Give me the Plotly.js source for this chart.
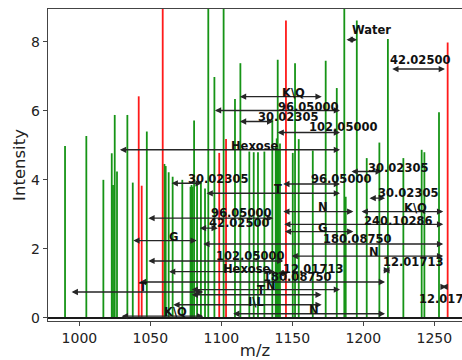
<!DOCTYPE html>
<html>
<head>
<meta charset="utf-8">
<script src="https://cdn.plot.ly/plotly-3.0.1.min.js"></script>
<style>html,body{margin:0;padding:0;background:#fff;}#chart{width:462px;height:360px;}</style>
</head>
<body>
<div id="chart"></div>
<script>
// Green (matched) peaks: m/z and intensity (values above 8.95 are clipped at the top)
const greenMz = [989.9,1004.9,1016.9,1022.8,1023.7,1024.9,1026.5,1033.8,1037.6,1047.5,
  1059.9,1060.8,1062.9,1065.7,1072.5,1078.3,1079.0,1079.7,1080.8,1082.9,1085.6,1088.5,
  1090.8,1095.1,1101.6,1109.6,1113.4,1119.7,1122.8,1125.8,1130.3,1135.9,1138.3,1139.0,
  1139.7,1140.5,1141.3,1150.3,1151.9,1154.5,1164.4,1173.5,1181.3,1186.6,1187.6,1195.4,
  1202.4,1211.3,1217.3,1228.2,1241.1,1243.0,1253.3];
const greenInt = [4.98,5.27,4.00,4.77,3.85,5.88,4.24,5.88,3.92,5.40,
  4.46,4.40,4.22,4.09,4.00,3.80,3.85,3.80,5.72,3.92,3.95,3.75,
  9.6,6.98,9.6,6.34,7.38,4.82,4.80,4.80,4.82,5.74,4.95,5.20,
  7.48,4.90,5.05,4.78,7.38,5.18,4.85,7.45,6.66,9.6,3.51,8.62,
  4.63,5.08,8.08,4.63,4.87,4.80,5.96];
// Red peaks
const redMz = [1041.8,1043.9,1058.7,1098.5,1103.3,1145.5,1259.4];
const redInt = [6.42,3.83,9.6,4.78,5.18,8.62,7.98];

// Annotated mass differences: label, arrow level, arrow ends, label anchor (left) and level
const annLabels = ["Water","42.02500","K\\Q","96.05000","30.02305","102.05000","Hexose",
  "30.02305","30.02305","96.05000","T","30.02305","N","K\\Q","96.05000","42.02500",
  "240.10286","G","G","180.08750","N","102.05000","12.01713","Hexose","12.01713",
  "180.08750","T","N","T","12.01713","I\\L","N","K\\Q"];
const annArrowY = [8.06,7.21,6.41,6.01,5.69,5.37,4.87,
  4.24,3.90,3.88,3.61,3.47,3.08,3.08,2.89,2.60,
  2.71,2.50,2.24,2.14,1.79,1.65,1.38,1.34,1.30,
  1.04,0.75,0.82,0.67,0.90,0.38,0.12,0.05];
const annX1 = [1187.1,1219.3,1112.0,1094.4,1112.0,1138.5,1027.5,
  1190.6,1063.9,1142.5,1088.5,1203.3,1142.5,1197.7,1047.5,1083.8,
  1143.2,1143.7,1036.9,1086.2,1148.4,1047.5,1213.0,1062.1,1138.5,
  1041.5,993.5,1078.0,1078.0,1254.0,1065.1,1107.3,1028.7];
const annX2 = [1195.6,1257.5,1170.7,1183.6,1136.6,1183.6,1183.6,
  1213.0,1086.2,1183.6,1183.6,1215.3,1193.0,1256.3,1136.6,1097.5,
  1256.3,1193.0,1082.7,1256.3,1256.3,1143.7,1218.8,1137.8,1147.0,
  1215.3,1087.3,1183.6,1170.7,1258.7,1170.7,1215.3,1087.3];
const annTextX = [1191.1,1218.1,1142.0,1139.0,1124.9,1161.1,1106.1,
  1202.4,1075.6,1162.5,1136.6,1209.4,1167.2,1228.0,1092.0,1090.6,
  1199.8,1167.2,1062.5,1170.7,1203.3,1095.6,1213.0,1100.3,1142.7,
  1128.7,1041.3,1130.8,1124.4,1238.5,1117.9,1161.1,1059.2];
const annTextY = [8.33,7.48,6.53,6.12,5.83,5.52,4.99,
  4.34,4.02,4.02,3.73,3.61,3.20,3.18,3.03,2.74,
  2.82,2.60,2.35,2.28,1.92,1.79,1.63,1.43,1.43,
  1.19,0.90,0.93,0.81,0.56,0.46,0.22,0.17];

function sticks(xs, ys) {
  const x = [], y = [];
  xs.forEach((m, i) => { x.push(m, m, null); y.push(0, ys[i], null); });
  return {x, y};
}
const g = sticks(greenMz, greenInt);
const r = sticks(redMz, redInt);

const traces = [
  {type:'scatter', mode:'lines', x:g.x, y:g.y, line:{color:'#169416', width:1.8}, hoverinfo:'skip', showlegend:false},
  {type:'scatter', mode:'lines', x:r.x, y:r.y, line:{color:'#ff1a1a', width:1.8}, hoverinfo:'skip', showlegend:false}
];

const annotations = [];
annLabels.forEach((lab, i) => {
  annotations.push({
    x: annX2[i], y: annArrowY[i], ax: annX1[i], ay: annArrowY[i],
    xref:'x', yref:'y', axref:'x', ayref:'y', text:'', showarrow:true,
    arrowside:'end+start', arrowhead:2, startarrowhead:2, arrowsize:0.9, startarrowsize:0.9,
    arrowwidth:1.4, arrowcolor:'#262626', standoff:0, startstandoff:0
  });
  annotations.push({
    x: annTextX[i], y: annTextY[i], xref:'x', yref:'y', text: lab, showarrow:false,
    xanchor:'left', yanchor:'middle', borderpad:0,
    font:{family:'DejaVu Sans', size:11.5, color:'#111', weight:'bold'}
  });
});

const layout = {
  width:462, height:360,
  margin:{l:48, r:0, t:9, b:39},
  paper_bgcolor:'#fff', plot_bgcolor:'#fff',
  showlegend:false,
  font:{family:'DejaVu Sans', color:'#222'},
  xaxis:{range:[977.9,1269.5], showgrid:false, zeroline:false,
    showline:true, mirror:true, linecolor:'#444', linewidth:1.3,
    ticks:'outside', ticklen:4, tickcolor:'#444', tickwidth:1,
    tickvals:[1000,1050,1100,1150,1200,1250], tickfont:{size:14, color:'#222'},
    title:{text:'m/z', font:{size:16.5, color:'#222'}, standoff:3}},
  yaxis:{range:[-0.09,8.95], showgrid:false, zeroline:false,
    showline:true, mirror:false, linecolor:'#444', linewidth:1.3,
    ticks:'outside', ticklen:4, tickcolor:'#444', tickwidth:1,
    tickvals:[0,2,4,6,8], tickfont:{size:14, color:'#222'},
    title:{text:'Intensity', font:{size:16.5, color:'#222'}, standoff:1}},
  shapes:[{type:'line', xref:'paper', yref:'y', x0:0, x1:1, y0:0, y1:0,
    line:{color:'#1a1a1a', width:2}}],
  annotations: annotations
};

Plotly.newPlot('chart', traces, layout, {staticPlot:true, displayModeBar:false});
</script>
</body>
</html>
